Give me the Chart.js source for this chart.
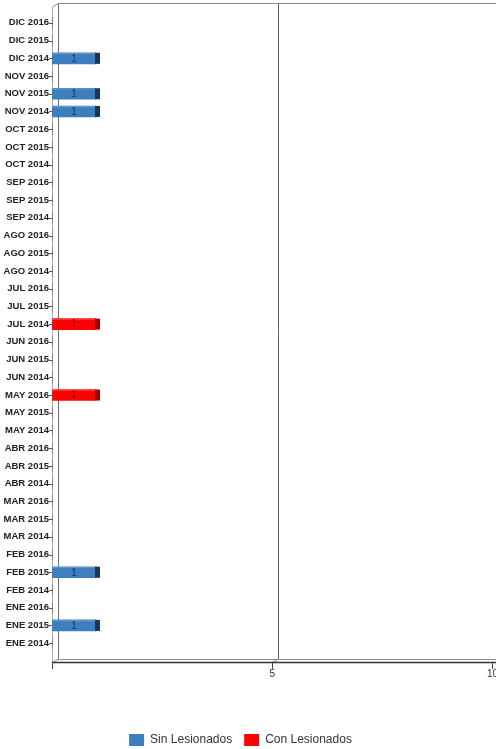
<!DOCTYPE html>
<html>
<head>
<meta charset="utf-8">
<script src="https://cdn.jsdelivr.net/npm/chart.js@4.4.1/dist/chart.umd.min.js"></script>
<style>
html,body{margin:0;padding:0;overflow:hidden;background:#fff;}
#wrap{position:relative;width:499px;height:749px;}
</style>
</head>
<body>
<div id="wrap"><canvas id="c"></canvas></div>
<script>
const categories = [
  "DIC 2016","DIC 2015","DIC 2014",
  "NOV 2016","NOV 2015","NOV 2014",
  "OCT 2016","OCT 2015","OCT 2014",
  "SEP 2016","SEP 2015","SEP 2014",
  "AGO 2016","AGO 2015","AGO 2014",
  "JUL 2016","JUL 2015","JUL 2014",
  "JUN 2016","JUN 2015","JUN 2014",
  "MAY 2016","MAY 2015","MAY 2014",
  "ABR 2016","ABR 2015","ABR 2014",
  "MAR 2016","MAR 2015","MAR 2014",
  "FEB 2016","FEB 2015","FEB 2014",
  "ENE 2016","ENE 2015","ENE 2014"
];
const sinLesionados = [
  0,0,1,
  0,1,1,
  0,0,0,
  0,0,0,
  0,0,0,
  0,0,0,
  0,0,0,
  0,0,0,
  0,0,0,
  0,0,0,
  0,1,0,
  0,1,0
];
const conLesionados = [
  0,0,0,
  0,0,0,
  0,0,0,
  0,0,0,
  0,0,0,
  0,0,1,
  0,0,0,
  1,0,0,
  0,0,0,
  0,0,0,
  0,0,0,
  0,0,0
];
const xTickValues = [0, 5, 10];
const xTickLabels = ["", "5", "10"];
const seriesNames = ["Sin Lesionados", "Con Lesionados"];
const seriesColors = ["#3d7ebf", "#ff0000"];
const capColors = ["#1b3652", "#a30000"];
const labelColors = ["#1a3350", "#8a0000"];

const DX = 6;

const frame3d = {
  id: 'frame3d',
  beforeDatasetsDraw(chart) {
    const ctx = chart.ctx;
    const xs = chart.scales.x, ys = chart.scales.y;
    const ca = chart.chartArea;
    const L = Math.round(xs.getPixelForValue(0));
    const T = Math.round(ca.top), B = Math.round(ca.bottom);
    const W = chart.width;
    ctx.save();
    ctx.lineWidth = 1;
    ctx.strokeStyle = '#8a8a8a';
    ctx.beginPath();
    ctx.moveTo(L + DX, T - 10.5); ctx.lineTo(W, T - 10.5);
    ctx.stroke();
    ctx.beginPath();
    ctx.moveTo(L + 0.5, T - 7); ctx.lineTo(L + DX + 0.5, T - 10.5);
    ctx.stroke();
    ctx.strokeStyle = '#707070';
    ctx.beginPath();
    ctx.moveTo(L + DX + 0.5, T - 10.5); ctx.lineTo(L + DX + 0.5, B + 7);
    ctx.stroke();
    ctx.strokeStyle = '#b0b0b0';
    ctx.beginPath();
    ctx.moveTo(L + 0.5, T - 7); ctx.lineTo(L + 0.5, B + 10);
    ctx.stroke();
    const x5 = Math.round(xs.getPixelForValue(5));
    ctx.strokeStyle = '#606060';
    ctx.beginPath();
    ctx.moveTo(x5 + DX + 0.5, T - 10.5); ctx.lineTo(x5 + DX + 0.5, B + 7);
    ctx.stroke();
    ctx.strokeStyle = '#8a8a8a';
    ctx.beginPath();
    ctx.moveTo(L + DX, B + 7.5); ctx.lineTo(W, B + 7.5);
    ctx.stroke();
    ctx.beginPath();
    ctx.moveTo(L, B + 10.5); ctx.lineTo(L + DX, B + 7.5);
    ctx.moveTo(x5, B + 10.5); ctx.lineTo(x5 + DX, B + 7.5);
    ctx.stroke();
    ctx.strokeStyle = '#333333';
    ctx.lineWidth = 1.5;
    ctx.beginPath();
    ctx.moveTo(L, B + 10.5); ctx.lineTo(W, B + 10.5);
    ctx.stroke();
    ctx.lineWidth = 1;
    ctx.strokeStyle = '#444444';
    xTickValues.forEach(v => {
      const px = Math.round(xs.getPixelForValue(v)) + 0.5;
      ctx.beginPath();
      ctx.moveTo(px, B + 10); ctx.lineTo(px, B + 17);
      ctx.stroke();
    });
    ctx.strokeStyle = '#555555';
    categories.forEach((c, i) => {
      const py = Math.round(ys.getPixelForValue(i)) + 0.5;
      ctx.beginPath();
      ctx.moveTo(L - 3, py); ctx.lineTo(L + 1, py);
      ctx.stroke();
    });
    ctx.restore();
  },
  afterDatasetsDraw(chart) {
    const ctx = chart.ctx;
    const xs = chart.scales.x;
    const L = xs.getPixelForValue(0);
    ctx.save();
    chart.data.datasets.forEach((ds, di) => {
      const meta = chart.getDatasetMeta(di);
      meta.data.forEach((bar, i) => {
        const v = ds.data[i];
        if (!v) return;
        const h = bar.height;
        const top = bar.y - h / 2;
        ctx.fillStyle = capColors[di];
        ctx.fillRect(bar.x - 1, top, 5, h);
        ctx.fillStyle = 'rgba(255,255,255,0.18)';
        ctx.fillRect(L, top, bar.x - L - 1, 1.5);
        ctx.fillStyle = labelColors[di];
        ctx.font = '10px "Liberation Sans", Arial, sans-serif';
        ctx.textAlign = 'center';
        ctx.textBaseline = 'middle';
        ctx.fillText(String(v), (L + bar.x) / 2, bar.y + 0.5);
      });
    });
    ctx.restore();
  }
};

new Chart(document.getElementById('c'), {
  type: 'bar',
  data: {
    labels: categories,
    datasets: [
      { label: seriesNames[0], data: sinLesionados, backgroundColor: seriesColors[0], borderWidth: 0, barThickness: 11 },
      { label: seriesNames[1], data: conLesionados, backgroundColor: seriesColors[1], borderWidth: 0, barThickness: 11 }
    ]
  },
  options: {
    indexAxis: 'y',
    responsive: true,
    maintainAspectRatio: false,
    animation: false,
    layout: { padding: { top: 14, right: 0, bottom: -7, left: -18 } },
    scales: {
      x: {
        stacked: true,
        min: 0, max: 10,
        afterBuildTicks(scale) { scale.ticks = xTickValues.map(v => ({ value: v })); },
        ticks: {
          color: '#333', font: { family: '"Liberation Sans", Arial, sans-serif', size: 10 }, padding: 1, maxRotation: 0,
          callback(value, index) { return xTickLabels[index]; }
        },
        grid: { display: false, drawTicks: true, tickLength: 15 },
        border: { display: false },
        afterFit(scale) { scale.height = 70; }
      },
      y: {
        stacked: true,
        ticks: { color: '#222', font: { family: '"Liberation Sans", Arial, sans-serif', size: 9.5, weight: 'bold' }, padding: 3, autoSkip: false },
        grid: { display: false, drawTicks: false },
        border: { display: false },
        afterFit(scale) { scale.width = 70; }
      }
    },
    plugins: {
      legend: {
        position: 'bottom',
        labels: {
          boxWidth: 15, boxHeight: 12, padding: 12, color: '#333',
          font: { family: '"Liberation Sans", Arial, sans-serif', size: 12 }
        }
      },
      tooltip: { enabled: false }
    }
  },
  plugins: [frame3d]
});
</script>
</body>
</html>
